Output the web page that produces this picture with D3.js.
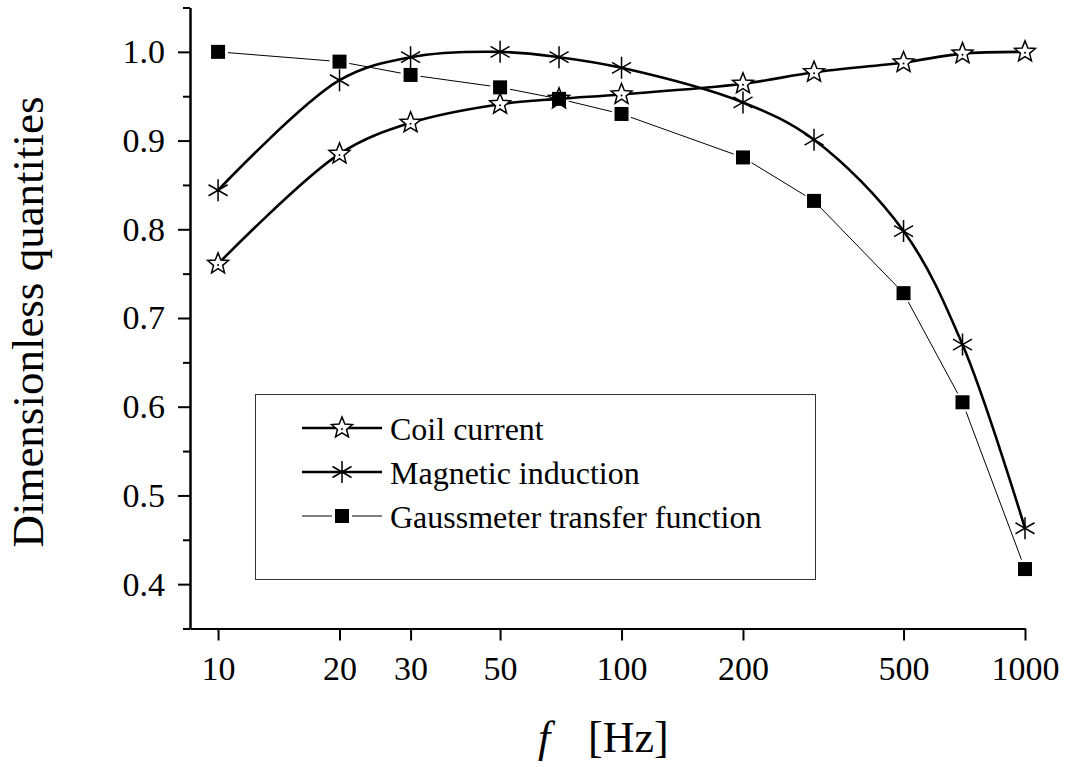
<!DOCTYPE html>
<html>
<head>
<meta charset="utf-8">
<script src="https://d3js.org/d3.v7.min.js"></script>
<style>
  body { margin: 0; background: #fff; }
  svg, svg text { font-family: "Liberation Serif", "Times New Roman", serif !important; }
  svg { display: block; }
</style>
</head>
<body>
<svg id="chart" width="1069" height="767"></svg>
<script>
// frequency points [Hz]
const freqs = [10, 20, 30, 50, 70, 100, 200, 300, 500, 700, 1000];

// normalised quantities
const coilCurrent       = [0.761, 0.885, 0.920, 0.941, 0.947, 0.952, 0.964, 0.977, 0.988, 0.998, 1.000];
const magneticInduction = [0.844, 0.968, 0.994, 1.000, 0.994, 0.982, 0.943, 0.901, 0.798, 0.670, 0.463];
const gaussmeterTF      = [1.000, 0.989, 0.974, 0.960, 0.947, 0.930, 0.881, 0.832, 0.728, 0.605, 0.417];

const xTicks = [10, 20, 30, 50, 100, 200, 500, 1000];
const yTicks = [0.4, 0.5, 0.6, 0.7, 0.8, 0.9, 1.0];
const yMinorTicks = [0.35, 0.45, 0.55, 0.65, 0.75, 0.85, 0.95, 1.05];

const legendLabels = ['Coil current', 'Magnetic induction', 'Gaussmeter transfer function'];

const svg = d3.select('#chart');

const x = d3.scaleLog().domain([8.52, 1000]).range([190, 1025]);
const y = d3.scaleLinear().domain([0.35, 1.05]).range([628.5, 7.5]);

// ---- axes ----
const yMinor = svg.append('g')
  .attr('transform', `translate(${x.range()[0]},0)`)
  .call(d3.axisLeft(y).tickValues(yMinorTicks).tickSize(7).tickSizeOuter(0).tickFormat(''));
const yAxis = svg.append('g')
  .attr('transform', `translate(${x.range()[0]},0)`)
  .call(d3.axisLeft(y).tickValues(yTicks).tickSize(12).tickSizeOuter(0).tickPadding(13)
    .tickFormat(d3.format('.1f')));
const xAxis = svg.append('g')
  .attr('transform', `translate(0,${y.range()[0]})`)
  .call(d3.axisBottom(x).tickValues(xTicks).tickSize(12).tickSizeOuter(0).tickPadding(15)
    .tickFormat(d3.format('d')));

[yMinor, yAxis, xAxis].forEach(g => {
  g.attr('font-family', null);
  g.selectAll('path.domain').attr('stroke', '#000').attr('stroke-width', 2);
  g.selectAll('.tick line').attr('stroke', '#000').attr('stroke-width', 2);
  g.selectAll('.tick text').attr('font-size', 34).attr('fill', '#000');
});

// axis titles
svg.append('text')
  .attr('transform', 'translate(43,322) rotate(-90)')
  .attr('text-anchor', 'middle')
  .attr('font-size', 45)
  .text('Dimensionless quantities');

const xt = svg.append('text').attr('y', 752).attr('font-size', 44);
xt.append('tspan').attr('x', 538).attr('font-style', 'italic').text('f');
xt.append('tspan').attr('x', 588).text('[Hz]');

// ---- series ----
const pts = vals => freqs.map((f, i) => [x(f), y(vals[i])]);
const smooth = d3.line().curve(d3.curveCatmullRom.alpha(0.5));

// gaussmeter: straight thin segments that stop short of the markers
function gappedSegments(p, gap) {
  const segs = [];
  for (let i = 0; i < p.length - 1; i++) {
    const [x0, y0] = p[i], [x1, y1] = p[i + 1];
    const len = Math.hypot(x1 - x0, y1 - y0);
    if (len <= 2 * gap) continue;
    const ux = (x1 - x0) / len, uy = (y1 - y0) / len;
    segs.push([x0 + ux * gap, y0 + uy * gap, x1 - ux * gap, y1 - uy * gap]);
  }
  return segs;
}

const gaussPts = pts(gaussmeterTF);
svg.append('g').selectAll('line')
  .data(gappedSegments(gaussPts, 10))
  .join('line')
    .attr('x1', d => d[0]).attr('y1', d => d[1])
    .attr('x2', d => d[2]).attr('y2', d => d[3])
    .attr('stroke', '#000').attr('stroke-width', 1);

svg.append('path')
  .attr('d', smooth(pts(coilCurrent)))
  .attr('fill', 'none').attr('stroke', '#000').attr('stroke-width', 2.6);
svg.append('path')
  .attr('d', smooth(pts(magneticInduction)))
  .attr('fill', 'none').attr('stroke', '#000').attr('stroke-width', 2.6);

// marker shapes
function starPath(R, r) {
  const p = d3.path();
  for (let k = 0; k < 10; k++) {
    const a = -Math.PI / 2 + k * Math.PI / 5;
    const rad = k % 2 === 0 ? R : r;
    const px = rad * Math.cos(a), py = rad * Math.sin(a);
    if (k === 0) p.moveTo(px, py); else p.lineTo(px, py);
  }
  p.closePath();
  return p.toString();
}
function asteriskPath(r) {
  const c = Math.cos(Math.PI / 6) * r, s = Math.sin(Math.PI / 6) * r;
  return `M0,${-r}L0,${r}M${-c},${-s}L${c},${s}M${-c},${s}L${c},${-s}`;
}
const STAR = starPath(11, 4.8);
const AST = asteriskPath(11);
const SQ = 14;

function drawStar(g) {
  g.append('path').attr('d', STAR).attr('fill', '#fff').attr('stroke', '#000').attr('stroke-width', 1.5);
  g.append('circle').attr('r', 1).attr('cy', 1).attr('fill', '#000');
}
function drawAsterisk(g) {
  g.append('path').attr('d', AST).attr('fill', 'none').attr('stroke', '#000').attr('stroke-width', 1.5);
}
function drawSquare(g) {
  g.append('rect').attr('x', -SQ / 2).attr('y', -SQ / 2).attr('width', SQ).attr('height', SQ).attr('fill', '#000');
}

svg.append('g').selectAll('g')
  .data(pts(coilCurrent)).join('g')
  .attr('transform', d => `translate(${d[0]},${d[1]})`)
  .each(function () { drawStar(d3.select(this)); });
svg.append('g').selectAll('g')
  .data(pts(magneticInduction)).join('g')
  .attr('transform', d => `translate(${d[0]},${d[1]})`)
  .each(function () { drawAsterisk(d3.select(this)); });
svg.append('g').selectAll('g')
  .data(gaussPts).join('g')
  .attr('transform', d => `translate(${d[0]},${d[1]})`)
  .each(function () { drawSquare(d3.select(this)); });

// ---- legend ----
const legend = svg.append('g');
legend.append('rect')
  .attr('x', 255.5).attr('y', 394.5).attr('width', 560).attr('height', 185)
  .attr('fill', 'none').attr('stroke', '#333').attr('stroke-width', 1);

const rowY = [428, 472, 516];
const markers = [drawStar, drawAsterisk, drawSquare];
legendLabels.forEach((label, i) => {
  const row = legend.append('g').attr('transform', `translate(0,${rowY[i]})`);
  if (i < 2) {
    row.append('line').attr('x1', 302).attr('x2', 382).attr('stroke', '#000').attr('stroke-width', 2.6);
  } else {
    row.append('line').attr('x1', 302).attr('x2', 332).attr('stroke', '#000').attr('stroke-width', 1);
    row.append('line').attr('x1', 352).attr('x2', 382).attr('stroke', '#000').attr('stroke-width', 1);
  }
  const m = row.append('g').attr('transform', 'translate(342,0)');
  markers[i](m);
  row.append('text').attr('x', 390).attr('y', 12).attr('font-size', 32).text(label);
});
</script>
</body>
</html>
